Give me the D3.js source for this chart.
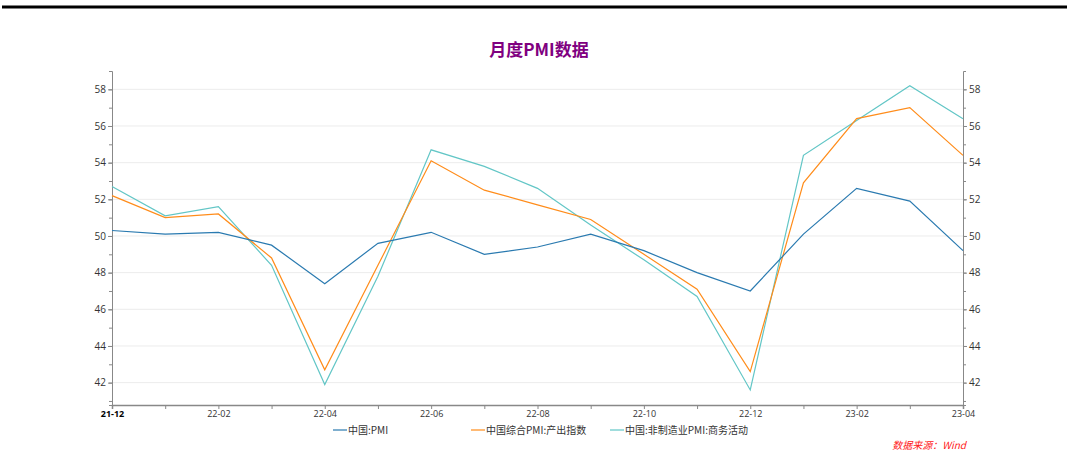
<!doctype html>
<html lang="zh">
<head>
<meta charset="utf-8">
<title>月度PMI数据</title>
<style>
  body { margin: 0; background: #fff; font-family: "Noto Sans CJK SC", "Open Sans", sans-serif; }
</style>
</head>
<body>
<div id="chart"></div>
<script src="https://d3js.org/d3.v7.min.js"></script>
<script>
// Data -------------------------------------------------------------------------
const months = ["21-12", "22-01", "22-02", "22-03", "22-04", "22-05", "22-06", "22-07", "22-08",
  "22-09", "22-10", "22-11", "22-12", "23-01", "23-02", "23-03", "23-04"];
const pmi = [50.3, 50.1, 50.2, 49.5, 47.4, 49.6, 50.2, 49.0, 49.4, 50.1, 49.2, 48.0, 47.0, 50.1, 52.6, 51.9, 49.2];
const compositeOutput = [52.2, 51.0, 51.2, 48.8, 42.7, 48.4, 54.1, 52.5, 51.7, 50.9, 49.0, 47.1, 42.6, 52.9, 56.4, 57.0, 54.4];
const nonMfgActivity = [52.7, 51.1, 51.6, 48.4, 41.9, 47.8, 54.7, 53.8, 52.6, 50.6, 48.7, 46.7, 41.6, 54.4, 56.3, 58.2, 56.4];
const seriesNames = ["中国:PMI", "中国综合PMI:产出指数", "中国:非制造业PMI:商务活动"];
const seriesColors = ["#2a7ab0", "#ff8c1a", "#62c6c6"];
const yTicks = [42, 44, 46, 48, 50, 52, 54, 56, 58];

// Canvas -----------------------------------------------------------------------
const width = 1067, height = 464;
const plotLeft = 112, plotRight = 963, plotTop = 71, plotBottom = 405;

const svg = d3.select("#chart").append("svg")
  .attr("width", width).attr("height", height);

svg.append("line")
  .attr("x1", 2).attr("x2", width).attr("y1", 7).attr("y2", 7)
  .attr("stroke", "#000").attr("stroke-width", 3);

svg.append("text")
  .attr("x", 539).attr("y", 56)
  .attr("text-anchor", "middle")
  .style("font-size", "17px").style("font-weight", "bold")
  .style("fill", "#800080")
  .text("月度PMI数据");

// Scales -----------------------------------------------------------------------
const x = d3.scalePoint().domain(months).range([plotLeft, plotRight]);
const y = d3.scaleLinear().domain([40.78, 59]).range([plotBottom, plotTop]);

// Grid -------------------------------------------------------------------------
svg.append("g").selectAll("line")
  .data(yTicks).join("line")
  .attr("x1", plotLeft).attr("x2", plotRight)
  .attr("y1", d => y(d)).attr("y2", d => y(d))
  .attr("stroke", "#ececec").attr("stroke-width", 1);

// Axes -------------------------------------------------------------------------
function styleAxis(g) {
  g.select(".domain").attr("stroke", "#888");
  g.selectAll("line").attr("stroke", "#888");
  g.selectAll("text").style("fill", "#333").style("font-family", "'Open Sans', sans-serif");
}

const minorY = d3.range(41, 59, 1);

svg.append("g").attr("transform", `translate(${plotLeft},0)`)
  .call(d3.axisLeft(y).tickValues(minorY).tickSize(3).tickFormat(""))
  .call(styleAxis);
svg.append("g").attr("transform", `translate(${plotLeft},0)`)
  .call(d3.axisLeft(y).tickValues(yTicks).tickSize(4).tickPadding(2).tickFormat(d3.format("d")))
  .call(g => g.select(".domain").remove())
  .call(styleAxis)
  .selectAll("text").style("font-size", "10px");

svg.append("g").attr("transform", `translate(${plotRight},0)`)
  .call(d3.axisRight(y).tickValues(minorY).tickSize(3).tickFormat(""))
  .call(styleAxis);
svg.append("g").attr("transform", `translate(${plotRight},0)`)
  .call(d3.axisRight(y).tickValues(yTicks).tickSize(4).tickPadding(2).tickFormat(d3.format("d")))
  .call(g => g.select(".domain").remove())
  .call(styleAxis)
  .selectAll("text").style("font-size", "10px");

const xAxis = svg.append("g").attr("transform", `translate(0,${plotBottom})`)
  .call(d3.axisBottom(x).tickSize(4).tickPadding(2)
    .tickFormat((d, i) => i % 2 === 0 ? d : ""))
  .call(styleAxis);
xAxis.select(".domain").attr("stroke-width", 1.5);
xAxis.selectAll("text").style("font-size", "9px")
  .style("font-weight", (d, i) => i === 0 ? "bold" : "normal")
  .style("fill", (d, i) => i === 0 ? "#000" : "#333");

// Lines ------------------------------------------------------------------------
const allSeries = [pmi, compositeOutput, nonMfgActivity];
const line = d3.line().x((d, i) => x(months[i])).y(d => y(d));

svg.append("g").selectAll("path")
  .data([2, 1, 0]).join("path")
  .attr("d", k => line(allSeries[k]))
  .attr("fill", "none")
  .attr("stroke", k => seriesColors[k])
  .attr("stroke-width", 1.2);

// Legend -----------------------------------------------------------------------
const legendX = [333, 471, 610];
const legend = svg.append("g").selectAll("g")
  .data(seriesNames).join("g")
  .attr("transform", (d, i) => `translate(${legendX[i]},430)`);
legend.append("line")
  .attr("x1", 0).attr("x2", 14)
  .attr("stroke", (d, i) => seriesColors[i]).attr("stroke-width", 1.2);
legend.append("text")
  .attr("x", 15).attr("dy", "0.35em")
  .style("font-size", "10px").style("fill", "#333")
  .text(d => d);

svg.append("text")
  .attr("x", 966).attr("y", 449)
  .attr("text-anchor", "end")
  .style("font-size", "10px").style("font-style", "italic")
  .style("fill", "#ff2020")
  .text("数据来源：Wind");
</script>
</body>
</html>
